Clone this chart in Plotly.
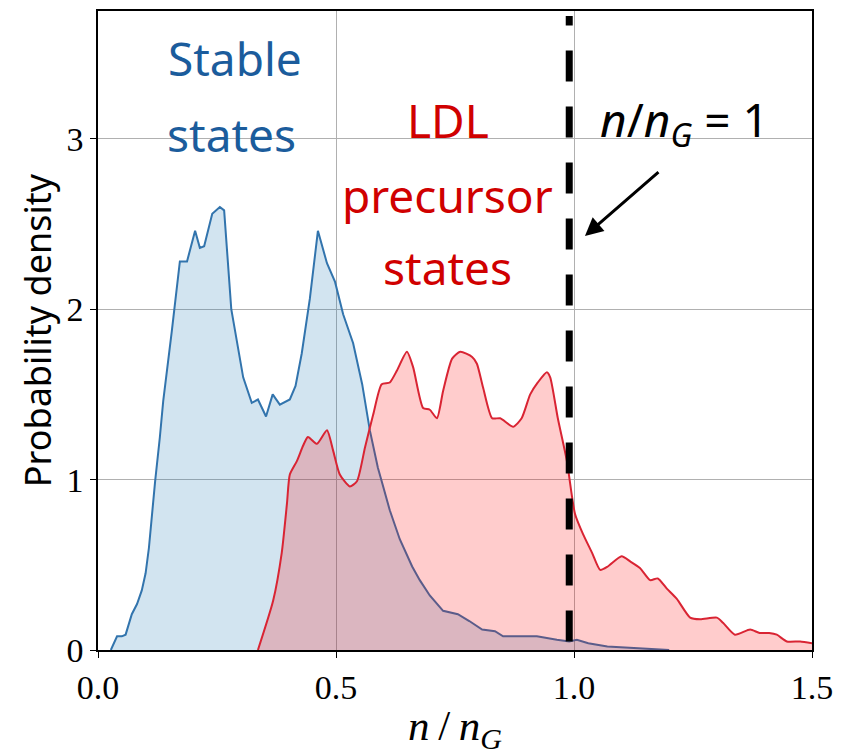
import plotly.graph_objects as go

# Stable states distribution
blue_x = [0.027, 0.04, 0.05, 0.058, 0.071, 0.082, 0.092, 0.10, 0.107, 0.113, 0.12, 0.13, 0.137, 0.155,
          0.172, 0.187, 0.204, 0.214, 0.223, 0.24, 0.256, 0.265, 0.28, 0.305, 0.323, 0.336, 0.353, 0.367,
          0.382, 0.403, 0.415, 0.428, 0.445, 0.462, 0.481, 0.498, 0.515, 0.536, 0.555, 0.571, 0.588,
          0.596, 0.613, 0.634, 0.66, 0.676, 0.697, 0.725, 0.756, 0.78, 0.807, 0.834, 0.851, 0.88, 0.922,
          0.964, 0.99, 1.006, 1.03, 1.07, 1.14, 1.2]
blue_y = [0.0, 0.08, 0.08, 0.09, 0.21, 0.27, 0.35, 0.45, 0.60, 0.80, 0.99, 1.25, 1.46, 1.87,
          2.28, 2.28, 2.46, 2.36, 2.37, 2.56, 2.60, 2.58, 2.0, 1.6, 1.45, 1.47, 1.37, 1.50,
          1.44, 1.47, 1.55, 1.74, 2.06, 2.46, 2.27, 2.16, 1.97, 1.80, 1.56, 1.29, 1.07,
          0.99, 0.82, 0.65, 0.49, 0.41, 0.32, 0.23, 0.21, 0.17, 0.12, 0.11, 0.08, 0.08, 0.08,
          0.06, 0.05, 0.06, 0.04, 0.02, 0.01, 0.0]

# LDL precursor states distribution
red_x = [0.336, 0.368, 0.386, 0.397, 0.403, 0.418, 0.431, 0.441, 0.46, 0.481, 0.494, 0.508, 0.529,
         0.544, 0.561, 0.578, 0.596, 0.613, 0.628, 0.649, 0.662, 0.683, 0.697, 0.712, 0.725, 0.744,
         0.761, 0.786, 0.796, 0.809, 0.828, 0.845, 0.872, 0.89, 0.908, 0.924, 0.943, 0.95, 0.966,
         0.985, 1.002, 1.019, 1.038, 1.055, 1.071, 1.10, 1.118, 1.139, 1.16, 1.176, 1.195, 1.216,
         1.244, 1.265, 1.30, 1.313, 1.338, 1.37, 1.39, 1.41, 1.426, 1.447, 1.475, 1.50]
red_y = [0.0, 0.29, 0.57, 0.86, 1.03, 1.11, 1.2, 1.25, 1.21, 1.29, 1.17, 1.03, 0.96,
         0.99, 1.19, 1.38, 1.56, 1.57, 1.64, 1.75, 1.66, 1.42, 1.41, 1.36, 1.52, 1.71,
         1.75, 1.72, 1.68, 1.54, 1.36, 1.36, 1.31, 1.36, 1.50, 1.57, 1.63, 1.60, 1.36,
         1.11, 0.80, 0.68, 0.57, 0.47, 0.49, 0.55, 0.52, 0.48, 0.41, 0.42, 0.36, 0.30,
         0.19, 0.18, 0.19, 0.16, 0.09, 0.12, 0.10, 0.10, 0.09, 0.05, 0.05, 0.04]

x_ticks = [0.0, 0.5, 1.0, 1.5]
x_tick_labels = ["0.0", "0.5", "1.0", "1.5"]
y_ticks = [0, 1, 2, 3]
y_tick_labels = ["0", "1", "2", "3"]
threshold_x = 0.99

fig = go.Figure()
fig.add_trace(go.Scatter(x=blue_x, y=blue_y, mode="lines", fill="tozeroy",
                         line=dict(color="#3274ad", width=2),
                         fillcolor="rgba(31,119,180,0.2)", showlegend=False))
fig.add_trace(go.Scatter(x=red_x, y=red_y, mode="lines", fill="tozeroy",
                         line=dict(color="#d92433", width=2, shape="spline", smoothing=0.6),
                         fillcolor="rgba(255,0,0,0.2)", showlegend=False))

fig.add_shape(type="line", x0=threshold_x, x1=threshold_x, y0=0.05, y1=3.72,
              xref="x", yref="y", line=dict(color="black", width=7, dash="31px,25px"))

sans = "Noto Sans"
serif = "Liberation Serif"
ann = [
    dict(text="Stable", x=0.287, y=3.475, color="#1b5c9c"),
    dict(text="states", x=0.28, y=3.03, color="#1b5c9c"),
    dict(text="LDL", x=0.735, y=3.11, color="#d00000"),
    dict(text="precursor", x=0.735, y=2.67, color="#d00000"),
    dict(text="states", x=0.735, y=2.245, color="#d00000"),
]
for a in ann:
    fig.add_annotation(text=a["text"], x=a["x"], y=a["y"], xref="x", yref="y",
                       showarrow=False, xanchor="center", yanchor="middle",
                       font=dict(family=sans, size=46, color=a["color"]))

fig.add_annotation(text="<i>n</i>/<i>n</i><sub><i>G</i></sub> = 1", x=1.233, y=3.1,
                   xref="x", yref="y", showarrow=False, xanchor="center", yanchor="middle",
                   font=dict(family=sans, size=46, color="black"))
fig.add_annotation(text="", x=1.023, y=2.43, xref="x", yref="y", ax=75, ay=-65,
                   showarrow=True, arrowhead=2, arrowsize=1.2, arrowwidth=3, arrowcolor="black")

# page body adds an 8px offset; figure sized/margined to compensate
fig.update_layout(
    width=834, height=748,
    margin=dict(l=90, r=30, t=1, b=106),
    plot_bgcolor="white", paper_bgcolor="white",
    xaxis=dict(range=[0, 1.5], tickvals=x_ticks, ticktext=x_tick_labels,
               showgrid=True, gridcolor="#b0b0b0", gridwidth=1,
               showline=True, linecolor="black", linewidth=1.5, mirror=True,
               ticks="outside", ticklen=6, tickcolor="black", zeroline=False,
               tickfont=dict(family=serif, size=34, color="black"),
               title=dict(text="<i>n</i>\u2009/\u2009<i>n</i><sub><i>G</i></sub>",
                          font=dict(family=serif, size=43, color="black"), standoff=6)),
    yaxis=dict(range=[0, 3.75], tickvals=y_ticks, ticktext=y_tick_labels,
               showgrid=True, gridcolor="#b0b0b0", gridwidth=1,
               showline=True, linecolor="black", linewidth=1.5, mirror=True,
               ticks="outside", ticklen=6, tickcolor="black", zeroline=False,
               tickfont=dict(family=serif, size=34, color="black"),
               title=dict(text="Probability density",
                          font=dict(family=sans, size=36, color="black"), standoff=4)),
)

fig.write_html("out.html")
